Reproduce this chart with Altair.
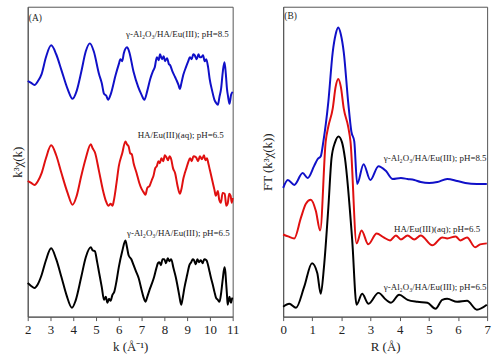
import altair as alt
import pandas as pd

# ---------------- Panel A: k^3 chi(k) (stacked, arbitrary units) ----------------
k_blue = [2.00, 2.15, 2.30, 2.45, 2.61, 2.80, 3.03, 3.25, 3.48, 3.75, 3.97, 4.15, 4.35, 4.55, 4.73, 4.90,
          5.13, 5.25, 5.35, 5.45, 5.53, 5.65, 5.86, 6.00, 6.07, 6.15, 6.22, 6.36, 6.45, 6.65, 6.85, 7.00,
          7.12, 7.25, 7.38, 7.50, 7.58, 7.67, 7.75, 7.81, 7.90, 7.97, 8.03, 8.12, 8.20, 8.25, 8.35, 8.47,
          8.55, 8.62, 8.68, 8.75, 8.83, 8.95, 9.05, 9.12, 9.20, 9.27, 9.33, 9.42, 9.50, 9.56, 9.62, 9.70,
          9.77, 9.84, 9.92, 9.99, 10.10, 10.20, 10.27, 10.35, 10.42, 10.49, 10.57, 10.64, 10.70, 10.75,
          10.80, 10.86, 10.93, 11.00]
chi_blue = [238, 236, 234, 238, 245, 262, 274, 265, 249, 230, 220, 228, 247, 268, 276, 268,
            245, 236, 225, 223, 219, 225, 244, 255, 260, 258, 266, 272, 268, 247, 232, 224,
            219, 228, 240, 248, 252, 262, 259, 265, 260, 263, 258, 261, 255, 254, 248, 242,
            238, 234, 230, 236, 244, 252, 258, 262, 260, 265, 264, 260, 265, 262, 262, 264,
            258, 260, 252, 240, 228, 219, 216, 214, 222, 230, 248, 257, 245, 230,
            222, 215, 224, 227]

k_red = [2.00, 2.15, 2.30, 2.45, 2.61, 2.80, 3.03, 3.25, 3.48, 3.75, 3.97, 4.15, 4.35, 4.55, 4.77, 4.85,
         4.95, 5.13, 5.30, 5.43, 5.55, 5.64, 5.72, 5.78, 5.90, 6.00, 6.15, 6.29, 6.36, 6.43, 6.50, 6.57,
         6.65, 6.78, 6.90, 7.00, 7.08, 7.17, 7.25, 7.35, 7.45, 7.52, 7.60, 7.67, 7.74, 7.80, 7.87, 7.95,
         8.02, 8.09, 8.16, 8.23, 8.30, 8.38, 8.47, 8.58, 8.68, 8.76, 8.83, 8.90, 8.97, 9.05, 9.13, 9.20,
         9.28, 9.39, 9.48, 9.56, 9.65, 9.74, 9.80, 9.87, 9.93, 9.99, 10.06, 10.13, 10.20, 10.26, 10.35,
         10.41, 10.48, 10.56, 10.65, 10.72, 10.78, 10.85, 10.91, 10.96, 11.00]
chi_red = [137, 135, 133, 137, 145, 160, 173, 163, 145, 125, 113, 122, 142, 160, 174, 170,
           166, 147, 128, 117, 112, 114, 112, 117, 135, 152, 165, 177, 174, 172, 165, 164,
           155, 145, 135, 129, 126, 123, 130, 132, 138, 142, 150, 152, 157, 155, 160, 157,
           163, 161, 158, 162, 159, 150, 145, 132, 124, 130, 139, 145, 150, 156, 160, 157,
           162, 161, 157, 162, 159, 163, 158, 160, 155, 149, 142, 135, 128, 122, 127,
           118, 115, 125, 124, 112, 114, 124, 122, 115, 120]

k_black = [2.00, 2.15, 2.30, 2.45, 2.61, 2.80, 3.03, 3.25, 3.48, 3.70, 3.94, 4.10, 4.35, 4.55, 4.77, 4.85,
           4.95, 5.05, 5.13, 5.25, 5.35, 5.43, 5.50, 5.57, 5.64, 5.72, 5.80, 5.90, 6.00, 6.15, 6.29, 6.36,
           6.43, 6.55, 6.65, 6.75, 6.87, 7.00, 7.08, 7.17, 7.25, 7.35, 7.43, 7.55, 7.65, 7.72, 7.78, 7.85,
           7.92, 8.00, 8.07, 8.15, 8.22, 8.30, 8.40, 8.50, 8.57, 8.65, 8.74, 8.80, 8.88, 9.00, 9.10, 9.18,
           9.25, 9.30, 9.38, 9.45, 9.52, 9.60, 9.68, 9.75, 9.85, 9.92, 9.99, 10.06, 10.13, 10.20, 10.27,
           10.35, 10.42, 10.50, 10.57, 10.64, 10.68, 10.71, 10.75, 10.78, 10.82, 10.86, 10.90, 10.93,
           10.97, 11.00]
chi_black = [34, 31, 29, 33, 42, 57, 69, 58, 40, 22, 9, 16, 40, 60, 70, 67,
             66, 55, 45, 30, 17, 20, 14, 18, 16, 22, 25, 36, 50, 66, 77, 70,
             62, 58, 52, 46, 39, 27, 20, 15, 20, 27, 32, 40, 49, 54, 55, 52,
             58, 58, 54, 59, 56, 58, 49, 40, 32, 22, 12, 18, 29, 42, 52, 55,
             58, 57, 53, 58, 55, 57, 54, 58, 57, 52, 45, 38, 32, 25, 19,
             17, 15, 25, 39, 50, 45, 35, 22, 12, 16, 20, 16, 14,
             18, 19]

# ---------------- Panel B: FT magnitude (stacked, arbitrary units) ----------------
r_blue = [0.00, 0.16, 0.38, 0.67, 0.84, 1.06, 1.18, 1.29, 1.38, 1.55, 1.70, 1.80, 1.89, 1.98, 2.08, 2.23,
          2.34, 2.44, 2.54, 2.76, 2.99, 3.27, 3.53, 3.76, 4.04, 4.27, 4.50, 4.72, 5.01, 5.29, 5.63, 5.97,
          6.25, 6.65, 6.99]
ft_blue = [130, 138, 133, 145, 140, 152, 159, 162, 177, 217, 267, 285, 292, 285, 267, 217,
           187, 177, 134, 154, 138, 152, 147, 139, 140, 139, 138, 136, 135, 136, 139, 137,
           135, 134, 134]

r_red = [0.00, 0.17, 0.38, 0.61, 0.78, 0.95, 1.12, 1.27, 1.46, 1.55, 1.70, 1.80, 1.89, 1.98, 2.08, 2.23,
         2.31, 2.52, 2.69, 2.92, 3.21, 3.45, 3.67, 3.87, 4.04, 4.27, 4.50, 4.72, 5.12, 5.46, 5.63, 5.92,
         6.08, 6.31, 6.59, 6.76, 6.99]
ft_red = [83, 81, 79, 100, 114, 118, 107, 87, 177, 192, 210, 232, 240, 232, 210, 192,
          177, 74, 87, 73, 84, 80, 77, 82, 78, 82, 78, 82, 72, 80, 79, 81,
          77, 80, 70, 73, 74]

r_black = [0.00, 0.21, 0.44, 0.72, 0.99, 1.17, 1.29, 1.40, 1.55, 1.66, 1.78, 1.90, 2.02, 2.12, 2.37, 2.52,
           2.71, 2.93, 3.27, 3.53, 3.70, 3.98, 4.27, 4.61, 4.95, 5.23, 5.46, 5.63, 5.97, 6.31, 6.65, 6.99]
ft_black = [10, 13, 9, 30, 54, 44, 23, 50, 110, 160, 176, 182, 176, 160, 77, 12,
            23, 13, 24, 17, 14, 22, 17, 15, 14, 8, 17, 18, 15, 16, 7, 12]

labels_a = ["γ-Al₂O₃/HA/Eu(III); pH=8.5", "HA/Eu(III)(aq); pH=6.5", "γ-Al₂O₃/HA/Eu(III); pH=6.5"]
labels_b = labels_a

series = ["pH85", "aq65", "pH65"]
colors = ["#1010c8", "#e01010", "#000000"]

FONT = "Liberation Serif"
AXC = "#555555"


def long_df(xs_list, ys_list, xname, yname):
    rows = []
    for s, xs, ys in zip(series, xs_list, ys_list):
        for x, y in zip(xs, ys):
            rows.append({xname: x, yname: y, "s": s})
    return pd.DataFrame(rows)


df_a = long_df([k_blue, k_red, k_black], [chi_blue, chi_red, chi_black], "k", "v")
df_b = long_df([r_blue, r_red, r_black], [ft_blue, ft_red, ft_black], "k", "v")

ann_a = pd.DataFrame({
    "k": [10.83, 10.61, 10.87],
    "v": [285, 183, 84],
    "t": labels_a,
})
ann_b = pd.DataFrame({
    "k": [6.98, 6.76, 6.98],
    "v": [160, 88, 30],
    "t": labels_b,
})
tag_a = pd.DataFrame({"k": [2.05], "v": [302], "t": ["(A)"]})
tag_b = pd.DataFrame({"k": [0.04], "v": [304], "t": ["(B)"]})

W_A, W_B, H = 207, 206, 313


def panel(df, ann, tag, xmin, xmax, xtitle, ytitle, ytpad, width):
    vals = [xmin + 0.5 * i for i in range(int((xmax - xmin) * 2) + 1)]
    xscale = alt.Scale(domain=[xmin, xmax], nice=False, zero=False)
    yscale = alt.Scale(domain=[0, H], nice=False, zero=False)
    xaxis = alt.Axis(values=vals, labelExpr="datum.value % 1 == 0 ? datum.label : ''",
                     grid=False, tickSize=4, tickColor=AXC, domainColor=AXC,
                     labelFont=FONT, labelFontSize=13, labelColor="#222", labelPadding=3,
                     labelFlush=False, labelOverlap=False, format="d",
                     title=xtitle, titleFont=FONT, titleFontSize=13, titleFontWeight="normal",
                     titleColor="#222", titlePadding=4)
    yaxis = alt.Axis(labels=False, ticks=False, grid=False, domainColor=AXC,
                     title=ytitle, titleFont=FONT, titleFontSize=13, titleFontWeight="normal",
                     titleColor="#222", titlePadding=ytpad)
    X = alt.X("k:Q", scale=xscale, axis=xaxis)
    Y = alt.Y("v:Q", scale=yscale, axis=yaxis)
    lines = alt.Chart(df).mark_line(strokeWidth=2, interpolate="monotone").encode(
        x=X, y=Y,
        color=alt.Color("s:N", scale=alt.Scale(domain=series, range=colors), legend=None),
        detail="s:N",
    )
    text = alt.Chart(ann).mark_text(align="right", baseline="middle", font=FONT, fontSize=9,
                                    color="#222").encode(x=X, y=Y, text="t:N")
    t2 = alt.Chart(tag).mark_text(align="left", baseline="middle", font=FONT, fontSize=9.5,
                                  color="#222").encode(x=X, y=Y, text="t:N")
    return alt.layer(lines, text, t2).properties(width=width, height=H)


pa = panel(df_a, ann_a, tag_a, 2, 11, "k (Å⁻¹)", "k³χ(k)", 3, W_A)
pb = panel(df_b, ann_b, tag_b, 0, 7, "R (Å)", "FT (k³χ(k))", 9, W_B)

chart = alt.hconcat(pa, pb, spacing=51, bounds="flush").properties(
    padding={"left": 11, "top": 4, "right": 8, "bottom": 4},
    background="white",
).configure_view(stroke=AXC, strokeWidth=1)

chart.save("out.html", embed_options={"renderer": "svg", "actions": False})
